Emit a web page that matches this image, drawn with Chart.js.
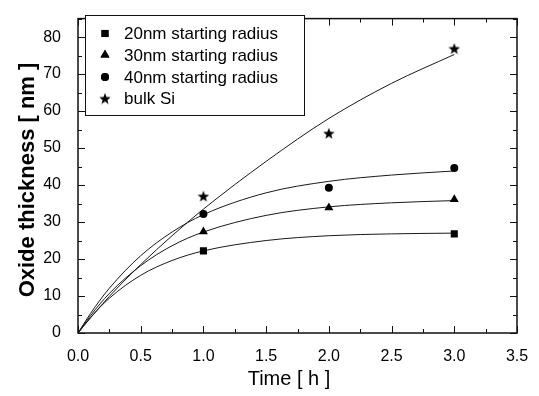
<!DOCTYPE html>
<html>
<head>
<meta charset="utf-8">
<script src="https://cdn.jsdelivr.net/npm/chart.js@4/dist/chart.umd.min.js"></script>
<style>
  html, body { margin: 0; padding: 0; background: #fff; }
  #wrap { width: 539px; height: 396px; }
</style>
</head>
<body>
<div id="wrap"><canvas id="c" width="539" height="396"></canvas></div>
<script>
// ---- Data ----
const seriesLabels = ['20nm starting radius', '30nm starting radius', '40nm starting radius', 'bulk Si'];

// measured points
const t20 = [1, 3];
const v20 = [22.2, 26.8];
const t30 = [1, 2, 3];
const v30 = [27.4, 33.9, 36.1];
const t40 = [1, 2, 3];
const v40 = [32.2, 39.3, 44.6];
const tBulk = [1, 2, 3];
const vBulk = [37.0, 54.0, 76.9];

// fitted curves
const fitTimes = [0, 0.1, 0.25, 0.5, 0.75, 1, 1.5, 2, 2.5, 3];
const fit20   = [0, 4.2, 9.4, 15.6, 19.6, 22.2, 25.0, 26.3, 26.8, 27.0];
const fit30   = [0, 4.7, 10.7, 18.2, 23.6, 27.3, 31.8, 34.1, 35.2, 35.8];
const fit40   = [0, 5.3, 12.1, 20.9, 27.3, 32.0, 37.9, 41.0, 42.7, 43.8];
const fitBulk = [0, 4.1, 9.9, 18.5, 26.3, 33.5, 46.4, 58.0, 67.5, 75.3];

// axis tick values
const xTicks = [0, 0.5, 1, 1.5, 2, 2.5, 3, 3.5];
const yTicks = [0, 10, 20, 30, 40, 50, 60, 70, 80];
const xTitle = 'Time [ h ]';
const yTitle = 'Oxide thickness [ nm ]';

const FONT = "'Liberation Sans', Arial, Helvetica, sans-serif";

function pts(xs, ys) { return xs.map((x, i) => ({ x: x, y: ys[i] })); }

// filled five-point star image for point style
function makeStar(size) {
  const c = document.createElement('canvas');
  c.width = size; c.height = size;
  const g = c.getContext('2d');
  const cx = size / 2, cy = size / 2 + 0.6, R = size / 2, r = R * 0.42;
  g.beginPath();
  for (let i = 0; i < 10; i++) {
    const a = -Math.PI / 2 + i * Math.PI / 5;
    const rr = i % 2 === 0 ? R : r;
    const px = cx + rr * Math.cos(a), py = cy + rr * Math.sin(a);
    if (i === 0) g.moveTo(px, py); else g.lineTo(px, py);
  }
  g.closePath();
  g.fillStyle = '#000';
  g.fill();
  return c;
}
const starImg = makeStar(12);

const markerStyles = [
  { pointStyle: 'rect', radius: 5 },
  { pointStyle: 'triangle', radius: 5.2 },
  { pointStyle: 'circle', radius: 4 },
  { pointStyle: starImg, radius: 6 }
];

function markerSet(label, xs, ys, k) {
  return {
    label: label, data: pts(xs, ys), showLine: false,
    pointStyle: markerStyles[k].pointStyle, pointRadius: markerStyles[k].radius,
    pointBackgroundColor: '#000', pointBorderColor: '#000', pointBorderWidth: 0,
    isMarker: true
  };
}
function fitSet(ys) {
  return {
    label: 'fit', data: pts(fitTimes, ys), showLine: true, pointRadius: 0,
    borderColor: '#1a1a1a', borderWidth: 1, cubicInterpolationMode: 'monotone',
    fill: false, isMarker: false
  };
}

const datasets = [
  markerSet(seriesLabels[0], t20, v20, 0),
  markerSet(seriesLabels[1], t30, v30, 1),
  markerSet(seriesLabels[2], t40, v40, 2),
  markerSet(seriesLabels[3], tBulk, vBulk, 3),
  fitSet(fit20), fitSet(fit30), fitSet(fit40), fitSet(fitBulk)
];

// frame + inward ticks on all four sides, axis titles, legend box
const framePlugin = {
  id: 'frame',
  afterDatasetsDraw(chart) {
    const { ctx, chartArea: a, scales } = chart;
    const xs = scales.x, ys = scales.y;
    ctx.save();
    ctx.strokeStyle = '#111';
    ctx.lineWidth = 1;
    for (let v = 0; v <= 3.5001; v += 0.25) {
      const px = Math.round(xs.getPixelForValue(v)) + 0.5;
      const major = Math.abs(v / 0.5 - Math.round(v / 0.5)) < 1e-6;
      const L = major ? 7 : 4;
      ctx.beginPath();
      ctx.moveTo(px, a.bottom); ctx.lineTo(px, a.bottom - L);
      ctx.moveTo(px, a.top); ctx.lineTo(px, a.top + L);
      ctx.stroke();
    }
    for (let v = 0; v <= 85.001; v += 5) {
      const py = Math.round(ys.getPixelForValue(v)) + 0.5;
      const major = v % 10 === 0;
      const L = major ? 7 : 4;
      ctx.beginPath();
      ctx.moveTo(a.left, py); ctx.lineTo(a.left + L, py);
      ctx.moveTo(a.right, py); ctx.lineTo(a.right - L, py);
      ctx.stroke();
    }
    ctx.lineWidth = 1.5;
    ctx.strokeRect(a.left, a.top, a.right - a.left, a.bottom - a.top);

    // axis titles
    ctx.fillStyle = '#000';
    ctx.textAlign = 'center';
    ctx.textBaseline = 'middle';
    ctx.font = '20px ' + FONT;
    ctx.fillText(xTitle, 289, 379);
    ctx.save();
    ctx.translate(28, 180);
    ctx.rotate(-Math.PI / 2);
    ctx.font = 'bold 22px ' + FONT;
    ctx.fillText(yTitle, 0, 0);
    ctx.restore();

    // legend box
    const bx = 85.5, by = 15.5, bw = 219, bh = 100;
    ctx.fillStyle = '#fff';
    ctx.fillRect(bx, by, bw, bh);
    ctx.lineWidth = 1;
    ctx.strokeStyle = '#111';
    ctx.strokeRect(bx, by, bw, bh);
    const rows = [33.5, 55, 77, 98.5];
    const markers = chart.data.datasets.filter(d => d.isMarker);
    markers.forEach((d, i) => {
      const y = rows[i];
      const st = d.pointStyle;
      ctx.fillStyle = '#000';
      if (Chart.helpers && Chart.helpers.drawPoint) {
        Chart.helpers.drawPoint(ctx, { pointStyle: st, radius: d.pointRadius, rotation: 0, borderWidth: 0 }, 105, y);
        if (typeof st === 'string') ctx.fill();
      }
      ctx.font = '17px ' + FONT;
      ctx.textBaseline = 'middle';
      ctx.textAlign = 'left';
      ctx.fillStyle = '#000';
      ctx.fillText(d.label, 124, y + 1);
    });
    ctx.restore();
  }
};

new Chart(document.getElementById('c'), {
  type: 'scatter',
  data: { datasets: datasets },
  plugins: [framePlugin],
  options: {
    responsive: false,
    animation: false,
    layout: { padding: { top: 9, right: 22, left: 0, bottom: 0 } },
    plugins: { legend: { display: false }, tooltip: { enabled: false } },
    scales: {
      x: {
        type: 'linear', min: 0, max: 3.5,
        grid: { display: false }, border: { display: false },
        afterBuildTicks(s) { s.ticks = xTicks.map(v => ({ value: v })); },
        afterFit(s) { s.height = 63; },
        ticks: {
          padding: 6, color: '#000', font: { family: FONT, size: 16 },
          callback: v => v.toFixed(1), maxRotation: 0, autoSkip: false
        },
        title: { display: false }
      },
      y: {
        type: 'linear', min: 0, max: 85,
        grid: { display: false }, border: { display: false },
        afterBuildTicks(s) { s.ticks = yTicks.map(v => ({ value: v })); },
        afterFit(s) { s.width = 78; },
        ticks: {
          padding: 9, color: '#000', font: { family: FONT, size: 16 },
          callback: v => String(v), autoSkip: false
        },
        title: { display: false }
      }
    }
  }
});
</script>
</body>
</html>
